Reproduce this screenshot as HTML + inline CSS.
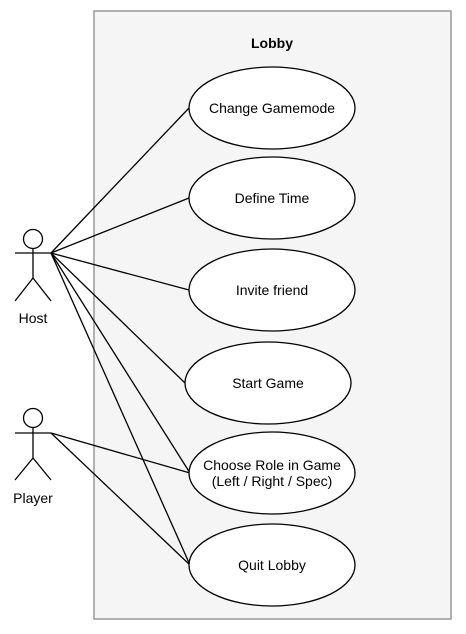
<!DOCTYPE html>
<html><head><style>body{margin:0;background:#fff}</style></head><body>
<svg width="466" height="629" xmlns="http://www.w3.org/2000/svg" font-family="Liberation Sans, Arial, sans-serif" font-size="14">
<rect x="94" y="11" width="357" height="608" fill="#f5f5f5" stroke="#999" stroke-width="1.5"/>
<text x="272" y="48" text-anchor="middle" font-weight="bold" font-size="14">Lobby</text>
<g stroke="#000" stroke-width="1.3" fill="none">
<line x1="51" y1="253" x2="189" y2="108"/>
<line x1="51" y1="253" x2="189" y2="198"/>
<line x1="51" y1="253" x2="189" y2="290"/>
<line x1="51" y1="253" x2="185" y2="383"/>
<line x1="51" y1="253" x2="190" y2="473"/>
<line x1="51" y1="253" x2="190" y2="565"/>
<line x1="51" y1="433" x2="190" y2="473"/>
<line x1="51" y1="433" x2="190" y2="565"/>
<circle cx="33" cy="239" r="9.5" fill="#fff"/>
<line x1="33" y1="248.5" x2="33" y2="278"/><line x1="15" y1="253" x2="51" y2="253"/>
<line x1="33" y1="278" x2="15" y2="301"/><line x1="33" y1="278" x2="51" y2="301"/>
<circle cx="33" cy="418" r="9.5" fill="#fff"/>
<line x1="33" y1="427.5" x2="33" y2="458"/><line x1="15" y1="433" x2="51" y2="433"/>
<line x1="33" y1="458" x2="15" y2="480"/><line x1="33" y1="458" x2="51" y2="480"/>
</g>
<g fill="#fff" stroke="#000" stroke-width="1.3">
<ellipse cx="272" cy="108" rx="83" ry="41"/>
<ellipse cx="272" cy="198" rx="83" ry="41"/>
<ellipse cx="272" cy="290" rx="83" ry="41"/>
<ellipse cx="268" cy="383" rx="83" ry="41"/>
<ellipse cx="272" cy="473" rx="83" ry="41"/>
<ellipse cx="272" cy="565" rx="83" ry="41"/>
</g>
<g text-anchor="middle">
<text x="272" y="113">Change Gamemode</text>
<text x="272" y="203">Define Time</text>
<text x="272" y="295">Invite friend</text>
<text x="268" y="388">Start Game</text>
<text x="272" y="470">Choose Role in Game</text>
<text x="272" y="486">(Left / Right / Spec)</text>
<text x="272" y="570">Quit Lobby</text>
<text x="33" y="323">Host</text>
<text x="33" y="503">Player</text>
</g>
</svg>
</body></html>
